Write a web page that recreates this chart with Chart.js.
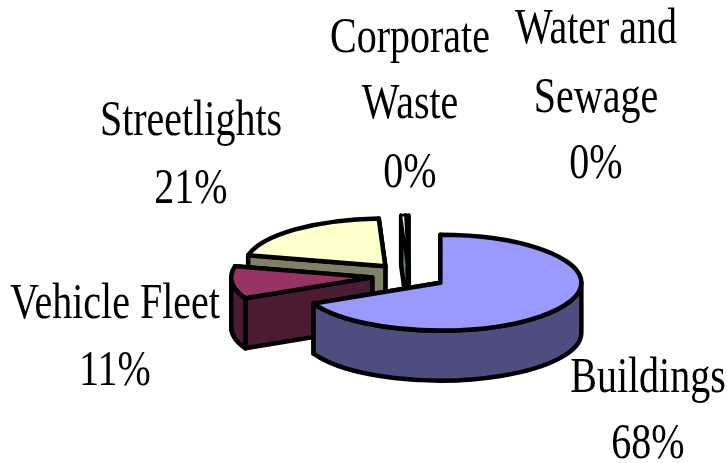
<!DOCTYPE html>
<html>
<head>
<meta charset="utf-8">
<style>
  html, body { margin: 0; padding: 0; background: #fff; }
  #wrap { width: 727px; height: 463px; }
</style>
<script src="https://cdn.jsdelivr.net/npm/chart.js@4"></script>
</head>
<body>
<div id="wrap"><canvas id="pie"></canvas></div>
<script>
const categories = ['Buildings', 'Vehicle Fleet', 'Streetlights', 'Corporate Waste', 'Water and Sewage'];
const shares = [67.8, 10.9, 20.55, 0.45, 0.3];

const faceColors = ['#9999FF', '#993366', '#FFFFCC', '#CCFFFF', '#660066'];
const wallColors = ['#4D4D80', '#4D1A33', '#808066', '#668080', '#330033'];

const SQUASH = 0.34;
const DEPTH = 50;
const EDGE = 4.5;
const EXPLODE = 37;

// label text lines and where they sit, same order as categories
const labelLines = [['Buildings'], ['Vehicle Fleet'], ['Streetlights'], ['Corporate', 'Waste'], ['Water and', 'Sewage']];
const labelSpots = [
    { x: 648, y: [392, 458] },
    { x: 115, y: [318, 385] },
    { x: 191, y: [135, 203] },
    { x: 410, y: [52, 118, 187] },
    { x: 596, y: [43, 112, 178] },
];

function midOf(arc) {
    return (arc.startAngle + arc.endAngle) / 2;
}

function tipOf(arc) {
    const mid = midOf(arc);
    return {
        x: arc.x + Math.cos(mid) * EXPLODE,
        y: arc.y + Math.sin(mid) * EXPLODE * SQUASH,
    };
}

function rimPoint(tip, arc, angle) {
    return {
        x: tip.x + Math.cos(angle) * arc.outerRadius,
        y: tip.y + Math.sin(angle) * arc.outerRadius * SQUASH,
    };
}

function drawWalls(ctx, arc, index) {
    const tip = tipOf(arc);
    const r = arc.outerRadius;
    ctx.fillStyle = wallColors[index];

    // the two cut sides, the one further back goes first
    const cuts = [arc.startAngle, arc.endAngle]
        .map(a => rimPoint(tip, arc, a))
        .sort((a, b) => a.y - b.y);
    cuts.forEach(p => {
        ctx.beginPath();
        ctx.moveTo(tip.x, tip.y);
        ctx.lineTo(p.x, p.y);
        ctx.lineTo(p.x, p.y + DEPTH);
        ctx.lineTo(tip.x, tip.y + DEPTH);
        ctx.closePath();
        ctx.fill();
        ctx.stroke();
    });

    // outer side, only the part facing the viewer
    const from = Math.max(arc.startAngle, 0);
    const to = Math.min(arc.endAngle, Math.PI);
    if (to > from) {
        ctx.beginPath();
        ctx.ellipse(tip.x, tip.y, r, r * SQUASH, 0, from, to);
        ctx.ellipse(tip.x, tip.y + DEPTH, r, r * SQUASH, 0, to, from, true);
        ctx.closePath();
        ctx.fill();
        ctx.stroke();
    }
}

function drawFace(ctx, arc, chart) {
    const tip = tipOf(arc);
    const r = arc.outerRadius;
    const mid = midOf(arc);

    ctx.save();
    ctx.translate(0, arc.y);
    ctx.scale(1, SQUASH);
    ctx.translate(0, -arc.y);
    ctx.translate(Math.cos(mid) * EXPLODE, Math.sin(mid) * EXPLODE);
    arc.draw(ctx, chart.chartArea);
    ctx.restore();

    // thin slivers would drown under the full outline
    ctx.lineWidth = arc.circumference < 0.1 ? 2 : EDGE;
    ctx.beginPath();
    ctx.moveTo(tip.x, tip.y);
    ctx.ellipse(tip.x, tip.y, r, r * SQUASH, 0, arc.startAngle, arc.endAngle);
    ctx.closePath();
    ctx.stroke();
    ctx.lineWidth = EDGE;
}

const tiltedPie = {
    id: 'tiltedPie',
    beforeDatasetDraw(chart) {
        const ctx = chart.ctx;
        const arcs = chart.getDatasetMeta(0).data;
        ctx.save();
        ctx.strokeStyle = '#000';
        ctx.lineWidth = EDGE;
        ctx.lineJoin = 'round';
        // back slices first
        for (let i = arcs.length - 1; i >= 0; i--) {
            drawWalls(ctx, arcs[i], i);
            drawFace(ctx, arcs[i], chart);
        }
        ctx.restore();
        return false;
    },
    afterDraw(chart) {
        const ctx = chart.ctx;
        const total = shares.reduce((a, b) => a + b, 0);
        ctx.save();
        ctx.fillStyle = '#000';
        ctx.textAlign = 'center';
        ctx.textBaseline = 'alphabetic';
        ctx.font = '50px "Liberation Serif"';
        labelLines.forEach((lines, i) => {
            const spot = labelSpots[i];
            const pct = Math.round(shares[i] / total * 100) + '%';
            [...lines, pct].forEach((text, n) => {
                ctx.save();
                ctx.translate(spot.x, spot.y[n]);
                ctx.scale(0.8, 1);
                ctx.fillText(text, 0, 0);
                ctx.restore();
            });
        });
        ctx.restore();
    },
};

new Chart(document.getElementById('pie'), {
    type: 'pie',
    data: {
        labels: categories,
        datasets: [{
            data: shares,
            backgroundColor: faceColors,
            borderWidth: 0,
        }],
    },
    options: {
        responsive: true,
        maintainAspectRatio: false,
        animation: false,
        radius: 141,
        layout: { padding: { left: 91, top: 89 } },
        plugins: {
            legend: { display: false },
            tooltip: { enabled: false },
        },
    },
    plugins: [tiltedPie],
});
</script>
</body>
</html>
